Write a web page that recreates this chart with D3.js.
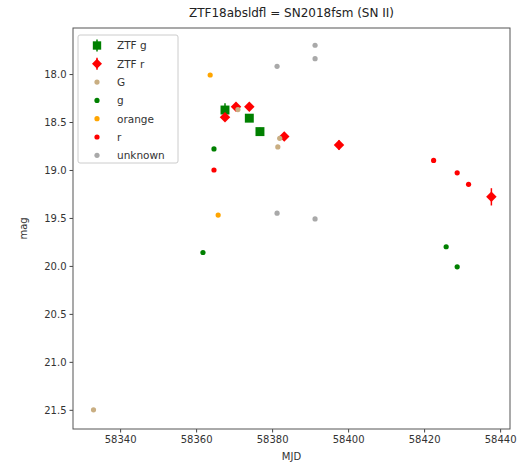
<!DOCTYPE html>
<html>
<head>
<meta charset="utf-8">
<script src="https://cdn.jsdelivr.net/npm/d3@7"></script>
<style>
  body { margin: 0; background: white; }
  text { font-family: "DejaVu Sans", sans-serif; }
</style>
</head>
<body>
<svg id="chart"></svg>
<script>
// ZTF forced photometry (big markers with error bars)
const ztfG_mjd = [58367.6, 58374.0, 58376.8];
const ztfG_mag = [18.375, 18.46, 18.60];
const ztfG_err = [0.07, 0.04, 0.04];
const ztfR_mjd = [58367.6, 58370.5, 58374.0, 58383.2, 58397.6, 58437.7];
const ztfR_mag = [18.45, 18.34, 18.34, 18.65, 18.74, 19.28];
const ztfR_err = [0.04, 0.04, 0.04, 0.04, 0.05, 0.09];

// other survey points (small dots)
const G_mjd = [58333.0, 58371.0, 58382.0, 58381.5];
const G_mag = [21.50, 18.37, 18.67, 18.76];
const g_mjd = [58364.7, 58361.8, 58425.8, 58428.7];
const g_mag = [18.78, 19.86, 19.80, 20.01];
const orange_mjd = [58363.7, 58365.8];
const orange_mag = [18.01, 19.47];
const r_mjd = [58364.7, 58422.5, 58428.7, 58431.7];
const r_mag = [19.00, 18.90, 19.03, 19.15];
const unk_mjd = [58381.3, 58391.3, 58391.3, 58381.3, 58391.3];
const unk_mag = [17.92, 17.70, 17.84, 19.45, 19.51];

const xTicks = [58340, 58360, 58380, 58400, 58420, 58440];
const yTicks = [18.0, 18.5, 19.0, 19.5, 20.0, 20.5, 21.0, 21.5];

const width = 517, height = 466;
const margin = {top: 28, right: 7, bottom: 37, left: 73};

const svg = d3.select("#chart").attr("width", width).attr("height", height);

const x = d3.scaleLinear().domain([58327.6, 58442.6]).range([margin.left, width - margin.right]);
// magnitudes: brighter on top
const y = d3.scaleLinear().domain([17.52, 21.70]).range([margin.top, height - margin.bottom]);

// axes
svg.append("g")
    .attr("transform", "translate(0," + (height - margin.bottom) + ")")
    .call(d3.axisBottom(x).tickValues(xTicks).tickFormat(d3.format("d")).tickSize(3.5).tickPadding(3))
    .call(g => g.select(".domain").remove())
    .call(g => g.selectAll("line").attr("stroke", "#444"))
    .call(g => g.selectAll("text").attr("fill", "#333").style("font-size", "10px"));

svg.append("g")
    .attr("transform", "translate(" + margin.left + ",0)")
    .call(d3.axisLeft(y).tickValues(yTicks).tickFormat(d3.format(".1f")).tickSize(3.5).tickPadding(3))
    .call(g => g.select(".domain").remove())
    .call(g => g.selectAll("line").attr("stroke", "#444"))
    .call(g => g.selectAll("text").attr("fill", "#333").style("font-size", "10px"));

// frame
svg.append("rect")
    .attr("x", margin.left).attr("y", margin.top)
    .attr("width", width - margin.left - margin.right)
    .attr("height", height - margin.top - margin.bottom)
    .attr("fill", "none").attr("stroke", "#555").attr("stroke-width", 1);

// labels
svg.append("text").attr("x", (margin.left + width - margin.right) / 2).attr("y", 17)
    .attr("text-anchor", "middle").style("font-size", "12px").attr("fill", "#222")
    .text("ZTF18absldfl = SN2018fsm (SN II)");
svg.append("text").attr("x", (margin.left + width - margin.right) / 2).attr("y", 460)
    .attr("text-anchor", "middle").style("font-size", "10px").attr("fill", "#333").text("MJD");
svg.append("text")
    .attr("transform", "translate(27," + ((margin.top + height - margin.bottom) / 2) + ") rotate(-90)")
    .attr("text-anchor", "middle").style("font-size", "10px").attr("fill", "#333").text("mag");

const plot = svg.append("g");

// error bar series, diamond = square turned 45 degrees
function errSeries(mjd, mag, err, color, diamond, size) {
    const data = mjd.map((m, i) => ({m: m, v: mag[i], e: err[i]}));
    const g = plot.append("g");
    g.selectAll("line").data(data).enter().append("line")
        .attr("x1", d => x(d.m)).attr("x2", d => x(d.m))
        .attr("y1", d => y(d.v - d.e)).attr("y2", d => y(d.v + d.e))
        .attr("stroke", color).attr("stroke-width", 1.5);
    g.selectAll("path").data(data).enter().append("path")
        .attr("d", d3.symbol().type(d3.symbolSquare).size(size))
        .attr("transform", d => "translate(" + x(d.m) + "," + y(d.v) + ")" + (diamond ? " rotate(45)" : ""))
        .attr("fill", color);
}
errSeries(ztfG_mjd, ztfG_mag, ztfG_err, "green", false, 80);
errSeries(ztfR_mjd, ztfR_mag, ztfR_err, "red", true, 55);

// dot series
function dotSeries(mjd, mag, color) {
    plot.append("g").selectAll("circle").data(mjd.map((m, i) => [m, mag[i]])).enter().append("circle")
        .attr("cx", d => x(d[0])).attr("cy", d => y(d[1])).attr("r", 2.6)
        .attr("fill", color);
}
dotSeries(G_mjd, G_mag, "#c9ae82");
dotSeries(g_mjd, g_mag, "green");
dotSeries(orange_mjd, orange_mag, "orange");
dotSeries(r_mjd, r_mag, "red");
dotSeries(unk_mjd, unk_mag, "darkgray");

// legend
const legendItems = [
    {label: "ZTF g", color: "green", kind: "sq"},
    {label: "ZTF r", color: "red", kind: "dia"},
    {label: "G", color: "#c9ae82", kind: "dot"},
    {label: "g", color: "green", kind: "dot"},
    {label: "orange", color: "orange", kind: "dot"},
    {label: "r", color: "red", kind: "dot"},
    {label: "unknown", color: "darkgray", kind: "dot"}
];
const legend = svg.append("g");
legend.append("rect").attr("x", 78).attr("y", 35).attr("width", 100).attr("height", 128)
    .attr("rx", 2).attr("fill", "white").attr("fill-opacity", 0.8).attr("stroke", "#ccc");
legendItems.forEach((it, i) => {
    const cy = 45.5 + i * 18.3;
    const cx = 97;
    if (it.kind === "dot") {
        legend.append("circle").attr("cx", cx).attr("cy", cy).attr("r", 2.6).attr("fill", it.color);
    } else {
        legend.append("line").attr("x1", cx).attr("x2", cx).attr("y1", cy - 6).attr("y2", cy + 6)
            .attr("stroke", it.color).attr("stroke-width", 1.5);
        legend.append("path")
            .attr("d", d3.symbol().type(d3.symbolSquare).size(it.kind === "sq" ? 70 : 50))
            .attr("transform", "translate(" + cx + "," + cy + ")" + (it.kind === "dia" ? " rotate(45)" : ""))
            .attr("fill", it.color);
    }
    legend.append("text").attr("x", 117).attr("y", cy + 3.8)
        .style("font-size", "10.5px").attr("fill", "#333").text(it.label);
});
</script>
</body>
</html>
